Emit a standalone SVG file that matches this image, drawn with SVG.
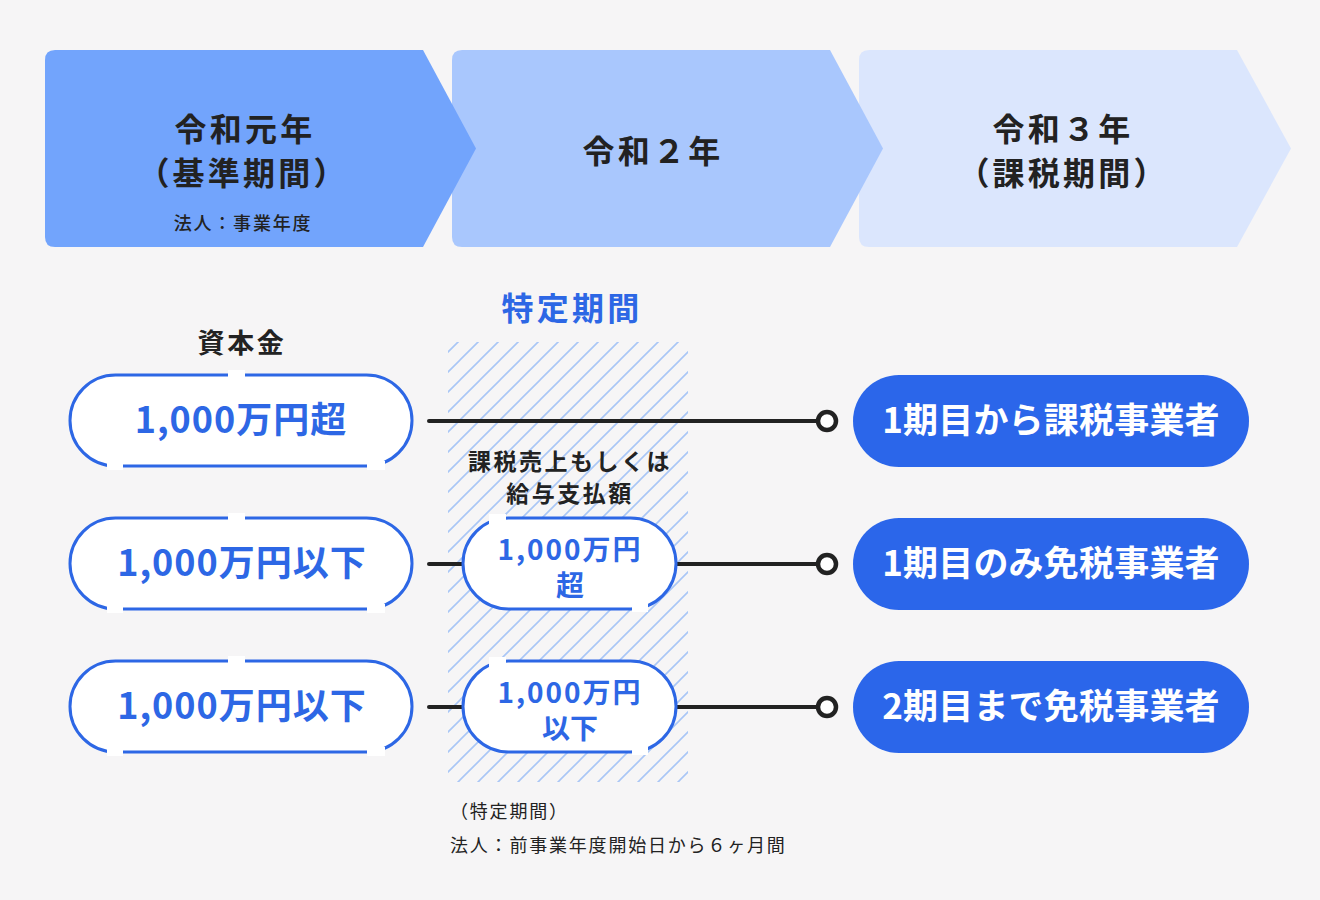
<svg xmlns="http://www.w3.org/2000/svg" width="1320" height="900" viewBox="0 0 1320 900">
<defs>
<style>
.t{font-family:'Noto Sans CJK JP','Noto Sans',sans-serif;font-weight:700;text-anchor:middle}
.hd{font-size:32px;fill:#222;letter-spacing:3.2px}
.sub{font-size:18px;fill:#222;font-weight:500;letter-spacing:1.8px}
.bl{fill:#2d67e5}
.lp{fill:#fff;stroke:#2d67e5;stroke-width:3}
.rp{fill:#2b66ea}
.wt{fill:#fff;font-size:35px;letter-spacing:0.2px}
.gap{fill:#fff}
.ln{stroke:#222;stroke-width:4;stroke-linecap:round;fill:none}
.dot{fill:#fff;stroke:#222;stroke-width:4.5}
.note{font-family:'Noto Sans CJK JP','Noto Sans',sans-serif;font-size:18px;fill:#222;letter-spacing:1.8px}
</style>
<pattern id="hatch" patternUnits="userSpaceOnUse" width="20" height="20">
<path d="M0,20 L20,0 M-5,5 L5,-5 M15,25 L25,15" stroke="#a9c6f6" stroke-width="1.6"/>
</pattern>
</defs>
<rect width="1320" height="900" fill="#f6f5f6"/>

<g id="header3">
<path d="M869,50 H1237 L1291,148.5 L1237,247 H869 Q859,247 859,237 V60 Q859,50 869,50 Z" fill="#dbe6fd"/>
<text class="t hd" x="1063" y="141">令和３年</text>
<text class="t hd" x="1063" y="185">（課税期間）</text>
</g>
<g id="header2">
<path d="M462,50 H830 L883,148.5 L830,247 H462 Q452,247 452,237 V60 Q452,50 462,50 Z" fill="#a9c7fd"/>
<text class="t hd" x="653" y="163">令和２年</text>
</g>
<g id="header1">
<path d="M55,50 H423 L476,148.5 L423,247 H55 Q45,247 45,237 V60 Q45,50 55,50 Z" fill="#72a4fc"/>
<text class="t hd" x="245" y="141">令和元年</text>
<text class="t hd" x="243" y="185">（基準期間）</text>
<text class="t sub" x="243" y="230">法人：事業年度</text>
</g>

<g id="period">
<rect x="448" y="342" width="240" height="440" fill="url(#hatch)"/>
<text class="t bl" x="572" y="320" font-size="32" letter-spacing="3.2">特定期間</text>
<text class="t" x="570" y="470" font-size="23" fill="#222" letter-spacing="2.5">課税売上もしくは</text>
<text class="t" x="570" y="502" font-size="23" fill="#222" letter-spacing="2.5">給与支払額</text>
</g>

<g id="capital-label">
<text class="t" x="242" y="353" font-size="27" fill="#222" letter-spacing="2.7">資本金</text>
</g>

<g id="connectors">
<line class="ln" x1="429" y1="421" x2="818" y2="421"/>
<circle class="dot" cx="827" cy="421" r="9"/>
<line class="ln" x1="429" y1="564" x2="463" y2="564"/>
<line class="ln" x1="676" y1="564" x2="818" y2="564"/>
<circle class="dot" cx="827" cy="564" r="9"/>
<line class="ln" x1="429" y1="707" x2="463" y2="707"/>
<line class="ln" x1="676" y1="707" x2="818" y2="707"/>
<circle class="dot" cx="827" cy="707" r="9"/>
</g>

<g id="cap1">
<rect class="lp" x="70" y="375" width="342" height="91" rx="45.5"/>
<rect class="gap" x="228" y="370" width="17" height="9"/>
<rect class="gap" x="107" y="461" width="16" height="9"/>
<rect class="gap" x="367" y="461" width="18" height="9"/>
<text class="t bl" x="241" y="433" font-size="36" letter-spacing="1">1,000万円超</text>
</g>
<g id="cap2">
<rect class="lp" x="70" y="518" width="342" height="91" rx="45.5"/>
<rect class="gap" x="228" y="513" width="17" height="9"/>
<rect class="gap" x="107" y="604" width="16" height="9"/>
<rect class="gap" x="367" y="604" width="18" height="9"/>
<text class="t bl" x="242" y="576" font-size="36" letter-spacing="1">1,000万円以下</text>
</g>
<g id="cap3">
<rect class="lp" x="70" y="661" width="342" height="91" rx="45.5"/>
<rect class="gap" x="228" y="656" width="17" height="9"/>
<rect class="gap" x="107" y="747" width="16" height="9"/>
<rect class="gap" x="367" y="747" width="18" height="9"/>
<text class="t bl" x="242" y="719" font-size="36" letter-spacing="1">1,000万円以下</text>
</g>

<g id="sales1">
<rect class="lp" x="463" y="518" width="213" height="91" rx="45.5"/>
<rect class="gap" x="489" y="514" width="17" height="11"/>
<rect class="gap" x="632" y="601" width="16" height="11"/>
<text class="t bl" font-size="28"><tspan x="570" y="560" letter-spacing="2">1,000万円</tspan><tspan x="570" y="596">超</tspan></text>
</g>
<g id="sales2">
<rect class="lp" x="463" y="661" width="213" height="91" rx="45.5"/>
<rect class="gap" x="489" y="657" width="17" height="11"/>
<rect class="gap" x="632" y="744" width="16" height="11"/>
<text class="t bl" font-size="28"><tspan x="570" y="703" letter-spacing="2">1,000万円</tspan><tspan x="570" y="739">以下</tspan></text>
</g>

<g id="result1">
<rect class="rp" x="853" y="375" width="396" height="92" rx="46"/>
<text class="t wt" x="1051" y="433">1期目から課税事業者</text>
</g>
<g id="result2">
<rect class="rp" x="853" y="518" width="396" height="92" rx="46"/>
<text class="t wt" x="1051" y="576">1期目のみ免税事業者</text>
</g>
<g id="result3">
<rect class="rp" x="853" y="661" width="396" height="92" rx="46"/>
<text class="t wt" x="1051" y="719">2期目まで免税事業者</text>
</g>

<g id="footnote">
<text class="note" x="450" y="818">（特定期間）</text>
<text class="note" x="450" y="852">法人：前事業年度開始日から６ヶ月間</text>
</g>
</svg>
